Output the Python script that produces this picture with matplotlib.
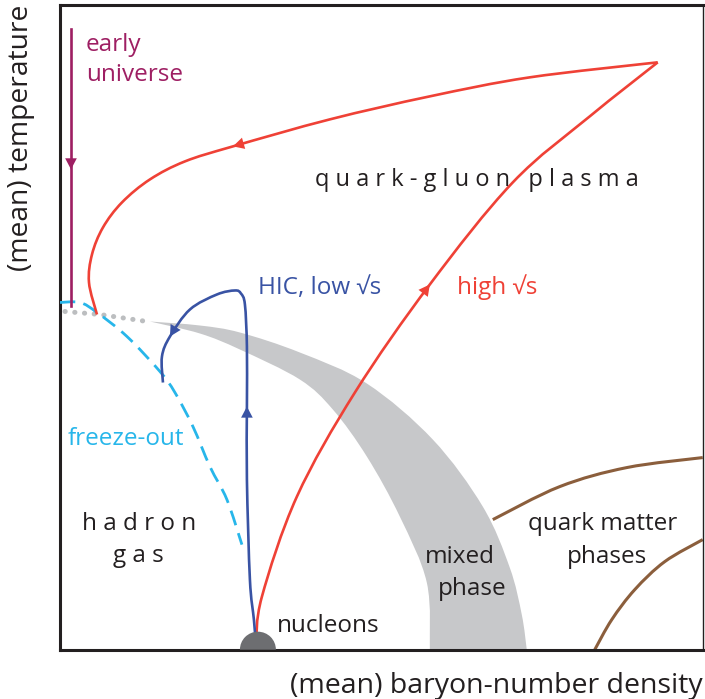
import numpy as np
import matplotlib.pyplot as plt
from matplotlib.path import Path
from matplotlib.patches import PathPatch, Wedge

plt.rcParams['font.family'] = ['Open Sans', 'DejaVu Sans']

# schematic QCD phase diagram, density and temperature in arbitrary units
DENSITY_MAX = 643
TEMP_MAX = 644

# early universe: cools at (almost) zero net baryon density
early_density = [11, 11]
early_temp = [620, 343]

# high sqrt(s) collision: nucleons -> hot dense corner (compression) ...
high_up_density = [196, 202, 237, 295, 370, 453, 530, 598]
high_up_temp = [5, 53, 153, 257, 365, 467, 533, 587]
# ... and expansion back down to freeze-out
high_down_density = [598, 470, 370, 270, 173, 125, 90, 62, 43, 32, 29, 37]
high_down_temp = [587, 572, 553, 530, 503, 488, 470, 447, 422, 395, 367, 335]

# low sqrt(s) heavy-ion collision
low_density = [196, 194, 190, 187, 187, 187, 185, 181, 175, 157, 130, 110, 102, 103]
low_temp = [5, 30, 70, 170, 243, 303, 345, 356, 359, 355, 340, 313, 293, 267]

# chemical freeze-out line
freeze_density = [0, 20, 37, 67, 100, 115, 133, 150, 167, 182]
freeze_temp = [347, 347, 337, 313, 278, 257, 223, 183, 150, 105]

# crossover region at small density
cross_density = [5, 40, 87]
cross_temp = [338, 335, 328]

# mixed-phase band (first order transition)
band_outer_density = [90, 140, 180, 240, 307, 373, 423, 450, 462, 467]
band_outer_temp = [328, 324, 317, 297, 266, 210, 143, 82, 35, 0]
band_inner_density = [370, 367, 340, 307, 273, 240, 180, 140, 90]
band_inner_temp = [0, 67, 133, 193, 240, 270, 300, 316, 328]

# boundaries between quark matter phases
qm_upper_density = [433, 500, 567, 643]
qm_upper_temp = [130, 163, 182, 192]
qm_lower_density = [535, 552, 575, 605, 643]
qm_lower_temp = [0, 30, 60, 88, 110]

nucleon_density = 198
nucleon_size = 18

RED = '#ef4136'
BLUE = '#3953a4'
CYAN = '#27b6ea'
PURPLE = '#9e1f63'
BROWN = '#8b5e3c'
DARK = '#231f20'
HEAD = "-|>,head_length=0.8,head_width=0.42"


def smooth_verts(xs, ys):
    """Cubic Bezier segments running through every point (Catmull-Rom style)."""
    pts = np.column_stack([xs, ys]).astype(float)
    n = len(pts)
    verts, codes = [pts[0]], [Path.MOVETO]
    for i in range(n - 1):
        p0, p1 = pts[max(i - 1, 0)], pts[i]
        p2, p3 = pts[i + 1], pts[min(i + 2, n - 1)]
        verts += [p1 + (p2 - p0) / 6, p2 - (p3 - p1) / 6, p2]
        codes += [Path.CURVE4] * 3
    return verts, codes


def draw_curve(ax, xs, ys, **kw):
    verts, codes = smooth_verts(xs, ys)
    ax.add_patch(PathPatch(Path(verts, codes), fill=False, **kw))


def add_arrow(ax, xs, ys, i, color):
    """Filled arrow head with its tip on point i, pointing along the path."""
    dx = xs[i + 1] - xs[i - 1]
    dy = ys[i + 1] - ys[i - 1]
    norm = (dx ** 2 + dy ** 2) ** 0.5
    tail = (xs[i] - 12 * dx / norm, ys[i] - 12 * dy / norm)
    ax.annotate("", xy=(xs[i], ys[i]), xytext=tail,
                arrowprops=dict(arrowstyle=HEAD, color=color, lw=0,
                                shrinkA=0, shrinkB=0, mutation_scale=10), zorder=5)


fig = plt.figure(figsize=(7.05, 6.99), dpi=100)
ax = fig.add_axes([60 / 705, 49.3 / 699, 642.7 / 705, 644.4 / 699])
ax.set_xlim(0, DENSITY_MAX)
ax.set_ylim(0, TEMP_MAX)
ax.set_xticks([])
ax.set_yticks([])
for side in ['left', 'top', 'bottom']:
    ax.spines[side].set_linewidth(2.2)
    ax.spines[side].set_color(DARK)
ax.spines['right'].set_linewidth(1.0)
ax.spines['right'].set_color(DARK)

# mixed phase band: smooth outer edge down to the axis, smooth inner edge back up
ov, oc = smooth_verts(band_outer_density, band_outer_temp)
iv, ic = smooth_verts(band_inner_density, band_inner_temp)
band_path = Path(ov + iv + [ov[0]], oc + [Path.LINETO] + ic[1:] + [Path.CLOSEPOLY])
ax.add_patch(PathPatch(band_path, facecolor='#c7c8ca', edgecolor='none', zorder=1))
ax.plot(cross_density, cross_temp, color='#bcbec0', lw=3.6, ls=(0, (0.05, 1.9)),
        dash_capstyle='round', zorder=1)

draw_curve(ax, qm_upper_density, qm_upper_temp, color=BROWN, lw=2.2, zorder=2)
draw_curve(ax, qm_lower_density, qm_lower_temp, color=BROWN, lw=2.2, zorder=2)

draw_curve(ax, freeze_density, freeze_temp, color=CYAN, lw=2.0, ls=(0, (5.5, 3)), zorder=3)

ax.plot(early_density, early_temp, color=PURPLE, lw=1.9, zorder=3)
ax.annotate("", xy=(11, 480), xytext=(11, 495),
            arrowprops=dict(arrowstyle=HEAD, color=PURPLE, lw=0,
                            shrinkA=0, shrinkB=0, mutation_scale=10), zorder=5)

draw_curve(ax, high_up_density, high_up_temp, color=RED, lw=1.9, zorder=3)
draw_curve(ax, high_down_density, high_down_temp, color=RED, lw=1.9, zorder=3)
add_arrow(ax, high_up_density, high_up_temp, 4, RED)
add_arrow(ax, high_down_density, high_down_temp, 4, RED)

draw_curve(ax, low_density, low_temp, color=BLUE, lw=1.9, zorder=3)
add_arrow(ax, low_density, low_temp, 4, BLUE)
add_arrow(ax, low_density, low_temp, 11, BLUE)

ax.add_patch(Wedge((nucleon_density, 0), nucleon_size, 0, 180, facecolor='#6d6e71',
                   edgecolor='none', zorder=6))

fs = 17.5
ax.text(26, 598, "early", color=PURPLE, fontsize=fs)
ax.text(26, 568, "universe", color=PURPLE, fontsize=fs)
ax.text(255, 463, "q u a r k - g l u o n   p l a s m a", color=DARK, fontsize=17)
ax.text(22, 120, "h a d r o n", color=DARK, fontsize=fs)
ax.text(53, 88, "g a s", color=DARK, fontsize=fs)
ax.text(198, 355, "HIC, low √s", color=BLUE, fontsize=fs)
ax.text(397, 355, "high √s", color=RED, fontsize=fs)
ax.text(8, 205, "freeze-out", color=CYAN, fontsize=fs)
ax.text(365, 87, "mixed", color=DARK, fontsize=fs)
ax.text(378, 55, "phase", color=DARK, fontsize=fs)
ax.text(468, 120, "quark matter", color=DARK, fontsize=fs)
ax.text(507, 87, "phases", color=DARK, fontsize=fs)
ax.text(217, 18, "nucleons", color=DARK, fontsize=fs)

fig.text(21 / 705, 1 - 5 / 699, "(mean) temperature", rotation=90, ha='center', va='top',
         color=DARK, fontsize=20.3)
fig.text(703 / 705, 1 - 693 / 699, "(mean) baryon-number density", ha='right',
         va='baseline', color=DARK, fontsize=20.5)

fig.savefig("out.png", dpi=100)
